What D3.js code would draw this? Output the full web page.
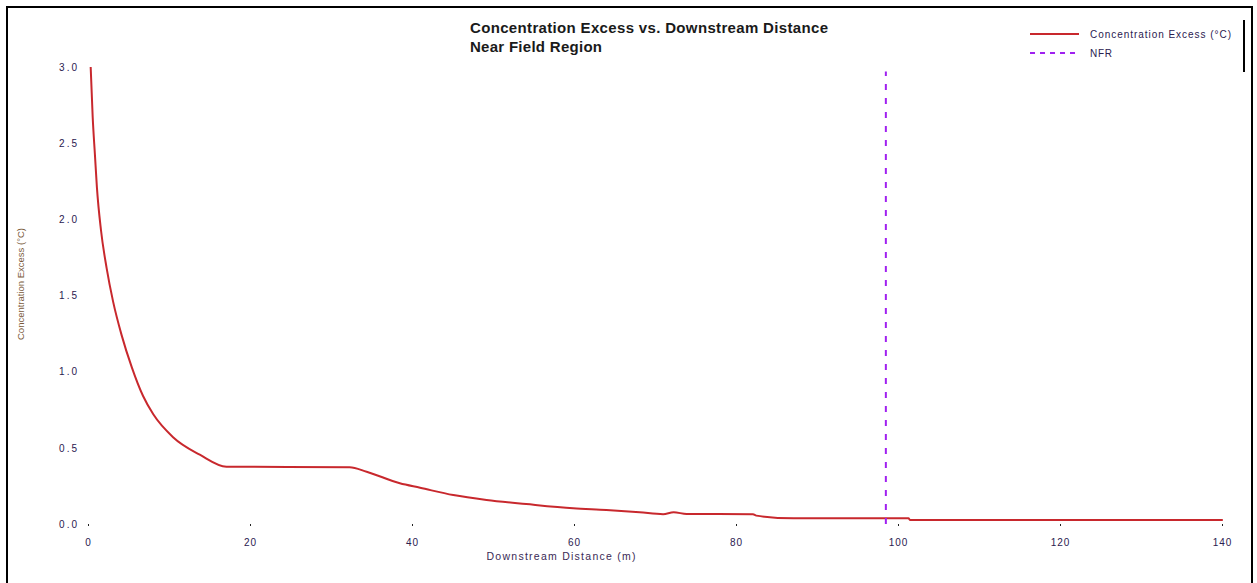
<!DOCTYPE html>
<html><head><meta charset="utf-8">
<script src="https://cdn.jsdelivr.net/npm/d3@7"></script>
<style>body{margin:0;background:#fff}svg{display:block;font-family:"Liberation Sans",Arial,sans-serif}</style>
</head><body>
<svg id="c" width="1257" height="583"></svg>
<script>
const distance = [0.33,0.58,0.86,1.1,1.6,2.3,3.1,4.15,5.4,6.8,8.06,10.5,13.8,17.1,32.3,34.4,38.5,41,45.1,49.2,54.1,59.9,64,68.1,71,72.3,73.9,82.1,82.5,87.1,92.8,101.3,101.5,140.1];
const concentration = [3.0,2.67,2.42,2.21,1.93,1.68,1.46,1.24,1.03,0.84,0.72,0.57,0.455,0.376,0.372,0.343,0.267,0.238,0.19,0.158,0.131,0.103,0.092,0.077,0.064,0.077,0.066,0.064,0.055,0.037,0.037,0.037,0.026,0.026];
const nfrX = 98.5;
const nfrY = [0, 2.97];
const xTicks = [0,20,40,60,80,100,120,140];
const yTicks = [0,0.5,1.0,1.5,2.0,2.5,3.0];
const titleLines = ["Concentration Excess vs. Downstream Distance","Near Field Region"];
const legendLabels = ["Concentration Excess (°C)","NFR"];

const svg = d3.select("#c");
const x = d3.scaleLinear().domain([0,140]).range([88,1222]);
const y = d3.scaleLinear().domain([0,3]).range([524,67]);

// outer frame (top, left, right)
svg.append("path").attr("d","M7,583 V7 H1252 V583").attr("fill","none").attr("stroke","#000").attr("stroke-width",2);

// axes
const xa = svg.append("g").attr("transform","translate(0,524)")
  .call(d3.axisBottom(x).tickValues(xTicks).tickSize(2).tickPadding(13).tickFormat(d3.format("d")));
xa.select(".domain").remove();
xa.selectAll("line").attr("stroke","#222");
xa.selectAll("text").attr("font-size",10).attr("letter-spacing",1).attr("fill","#2a2050");

const ya = svg.append("g").attr("transform","translate(80,0)")
  .call(d3.axisLeft(y).tickValues(yTicks).tickSize(0).tickPadding(1).tickFormat(d3.format(".1f")));
ya.select(".domain").remove();
ya.selectAll("text").attr("font-size",10).attr("letter-spacing",2).attr("fill","#2a2050");

// axis labels
svg.append("text").attr("x",561).attr("y",560).attr("text-anchor","middle")
  .attr("font-size",10.5).attr("fill","#3a2a55").attr("textLength",149).text("Downstream Distance (m)");
svg.append("text").attr("transform","translate(24,284) rotate(-90)").attr("text-anchor","middle")
  .attr("font-size",9.5).attr("fill","#7a5a3a").attr("textLength",112).text("Concentration Excess (°C)");

// title
svg.selectAll(".title").data(titleLines).enter().append("text")
  .attr("x",470).attr("y",(d,i)=>33+i*19).attr("font-size",15).attr("font-weight","bold")
  .attr("fill","#1a1a1a").attr("textLength",(d,i)=>i===0?358:132).text(d=>d);

// curve
const pts = distance.map((d,i)=>[d,concentration[i]]);
svg.append("path").datum(pts)
  .attr("d", d3.line().x(d=>x(d[0])).y(d=>y(d[1])).curve(d3.curveMonotoneX))
  .attr("fill","none").attr("stroke","#c8282d").attr("stroke-width",2);

// NFR line
svg.append("line").attr("x1",x(nfrX)).attr("x2",x(nfrX)).attr("y1",y(nfrY[0])).attr("y2",y(nfrY[1]))
  .attr("stroke","#a020f0").attr("stroke-width",2).attr("stroke-dasharray","6,8");

// legend
const lg = svg.append("g");
lg.append("line").attr("x1",1030).attr("x2",1079).attr("y1",34).attr("y2",34).attr("stroke","#c8282d").attr("stroke-width",2);
lg.append("line").attr("x1",1030).attr("x2",1079).attr("y1",53).attr("y2",53).attr("stroke","#a020f0").attr("stroke-width",2).attr("stroke-dasharray","5,5");
lg.selectAll("text").data(legendLabels).enter().append("text")
  .attr("x",1090).attr("y",(d,i)=>38+i*19).attr("font-size",10).attr("fill","#2a2050")
  .attr("textLength",(d,i)=>i===0?141:22).text(d=>d);
lg.append("line").attr("x1",1244).attr("x2",1244).attr("y1",20).attr("y2",72).attr("stroke","#000").attr("stroke-width",2);
</script>
</body></html>
